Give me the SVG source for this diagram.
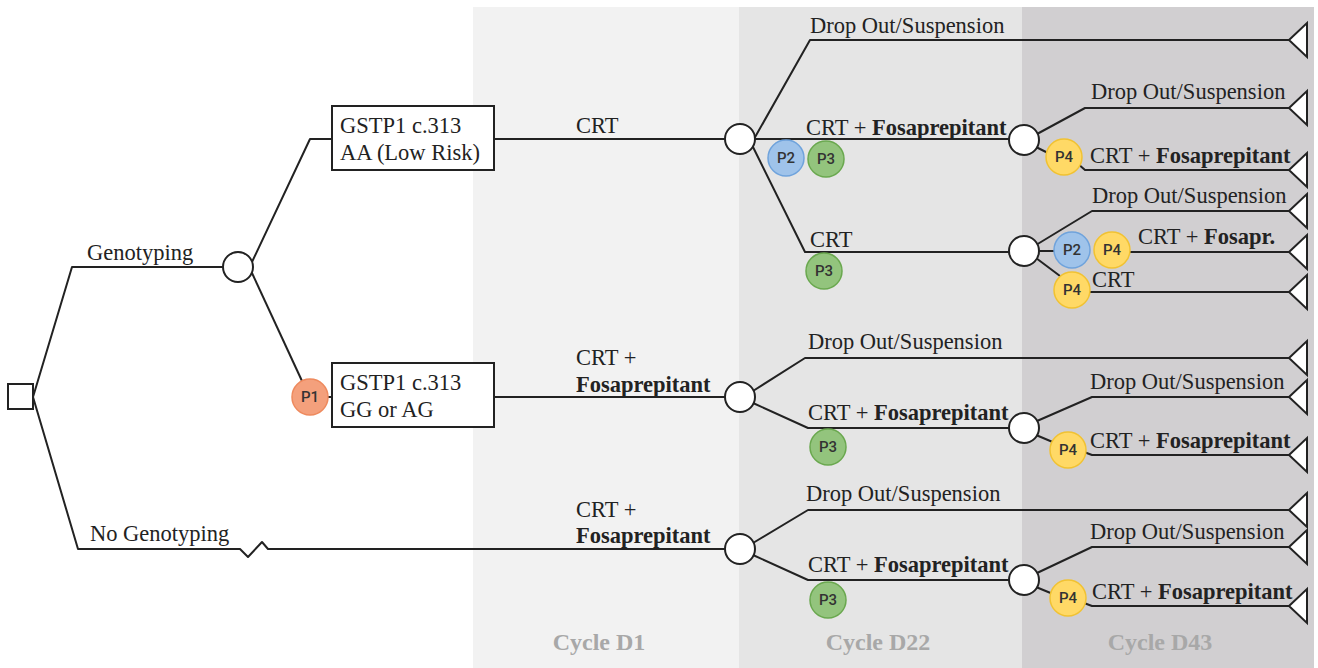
<svg xmlns="http://www.w3.org/2000/svg" width="1318" height="668" viewBox="0 0 1318 668">
<style>
.t{font-family:"Liberation Serif","Times New Roman",serif;font-size:22.5px;fill:#222}
.b{font-weight:bold}
.cy{font-family:"Liberation Serif","Times New Roman",serif;font-size:24px;font-weight:bold;fill:#a8a8a8;text-anchor:middle}
.ln{fill:none;stroke:#222;stroke-width:2;stroke-linejoin:round}
.ch{fill:#fff;stroke:#222;stroke-width:2}
.term{fill:#fff;stroke:#222;stroke-width:2;stroke-linejoin:miter}
.box{fill:#fff;stroke:#222;stroke-width:2}
.pl{font-family:Roboto,"Open Sans",sans-serif;font-size:15px;font-weight:500;fill:#333;text-anchor:middle}
.p1{fill:#f4a07c;stroke:#ee8a5e;stroke-width:1.5}
.p2{fill:#9fc3ea;stroke:#6fa3dc;stroke-width:1.5}
.p3{fill:#93c47d;stroke:#6aa84f;stroke-width:1.5}
.p4{fill:#ffd966;stroke:#f1c232;stroke-width:1.5}
</style>
<defs>
<path id="tri" d="M0,0 L18,-17 L18,17 Z" class="term"/>
</defs>
<rect width="1318" height="668" fill="#fff"/>
<g id="panels">
<rect x="473" y="7" width="266" height="661" fill="#f2f2f2"/>
<rect x="739" y="7" width="283" height="661" fill="#e5e5e5"/>
<rect x="1022" y="7" width="292" height="661" fill="#d1cfd1"/>
<text class="cy" x="599" y="650">Cycle D1</text>
<text class="cy" x="878" y="650">Cycle D22</text>
<text class="cy" x="1160" y="650">Cycle D43</text>
</g>
<g id="connectors">
<path class="ln" d="M33,397 L72,267 L223,267"/>
<path class="ln" d="M33,397 L78,549 L240,549 L248,557 L262,542 L268,549 L725,549"/>
<path class="ln" d="M252,262 L310,139 L332,139"/>
<path class="ln" d="M252,273 L302,381"/>
<path class="ln" d="M328,397 L332,397"/>
<path class="ln" d="M494,139 L725,139"/>
<path class="ln" d="M494,397 L725,397"/>
<path class="ln" d="M754,139 L810,40 L1289,40"/>
<path class="ln" d="M754,139 L1010,139"/>
<path class="ln" d="M752,145 L805,252 L1009,252"/>
<path class="ln" d="M1037,134 L1085,108 L1289,108"/>
<path class="ln" d="M1036,147 L1050,154 M1077,163 L1085,170 L1289,170"/>
<path class="ln" d="M1036,245 L1092,211 L1289,211"/>
<path class="ln" d="M1038,251 L1054,251 M1130,252 L1289,252"/>
<path class="ln" d="M1036,258 L1060,276 M1090,292 L1289,292"/>
<path class="ln" d="M753,391 L805,358 L1289,358"/>
<path class="ln" d="M753,403 L808,428 L1010,428"/>
<path class="ln" d="M1037,421 L1092,397 L1289,397"/>
<path class="ln" d="M1036,435 L1055,443 M1084,452 L1092,455 L1289,455"/>
<path class="ln" d="M753,543 L808,510 L1289,510"/>
<path class="ln" d="M753,555 L808,580 L1010,580"/>
<path class="ln" d="M1037,573 L1092,547 L1289,547"/>
<path class="ln" d="M1036,587 L1053,594 M1084,603 L1092,606 L1289,606"/>
</g>
<g id="root"><rect x="8" y="384" width="25" height="25" class="box"/></g>
<g id="chance-genotyping"><circle cx="238" cy="267" r="15" class="ch"/></g>
<g id="box-aa"><rect x="332" y="106" width="162" height="64" class="box"/>
<text class="t" x="340" y="133">GSTP1 c.313</text><text class="t" x="340" y="160">AA (Low Risk)</text></g>
<g id="box-gg"><rect x="332" y="363" width="162" height="64" class="box"/>
<text class="t" x="340" y="390">GSTP1 c.313</text><text class="t" x="340" y="417">GG or AG</text></g>
<g id="chance-aa"><circle cx="740" cy="139" r="15" class="ch"/></g>
<g id="chance-gg"><circle cx="740" cy="397" r="15" class="ch"/></g>
<g id="chance-no"><circle cx="740" cy="549" r="15" class="ch"/></g>
<g id="chance-aa-fos"><circle cx="1024" cy="140" r="15" class="ch"/></g>
<g id="chance-aa-crt"><circle cx="1024" cy="251" r="15" class="ch"/></g>
<g id="chance-gg-fos"><circle cx="1024" cy="428" r="15" class="ch"/></g>
<g id="chance-no-fos"><circle cx="1024" cy="580" r="15" class="ch"/></g>
<g id="terminals">
<use href="#tri" x="1289" y="40"/>
<use href="#tri" x="1289" y="108"/>
<use href="#tri" x="1289" y="170"/>
<use href="#tri" x="1289" y="211"/>
<use href="#tri" x="1289" y="252"/>
<use href="#tri" x="1289" y="292"/>
<use href="#tri" x="1289" y="358"/>
<use href="#tri" x="1289" y="397"/>
<use href="#tri" x="1289" y="455"/>
<use href="#tri" x="1289" y="510"/>
<use href="#tri" x="1289" y="547"/>
<use href="#tri" x="1289" y="606"/>
</g>
<g id="labels">
<text class="t" x="87" y="260">Genotyping</text>
<text class="t" x="90" y="541">No Genotyping</text>
<text class="t" x="576" y="133">CRT</text>
<text class="t" x="576" y="365">CRT +</text>
<text class="t b" x="576" y="392">Fosaprepitant</text>
<text class="t" x="576" y="517">CRT +</text>
<text class="t b" x="576" y="543">Fosaprepitant</text>
<text class="t" x="810" y="33">Drop Out/Suspension</text>
<text class="t" x="806" y="135">CRT + <tspan class="b">Fosaprepitant</tspan></text>
<text class="t" x="810" y="247">CRT</text>
<text class="t" x="1091" y="99">Drop Out/Suspension</text>
<text class="t" x="1090" y="163">CRT + <tspan class="b">Fosaprepitant</tspan></text>
<text class="t" x="1092" y="203">Drop Out/Suspension</text>
<text class="t" x="1138" y="244">CRT + <tspan class="b">Fosapr.</tspan></text>
<text class="t" x="1092" y="287">CRT</text>
<text class="t" x="808" y="349">Drop Out/Suspension</text>
<text class="t" x="808" y="420">CRT + <tspan class="b">Fosaprepitant</tspan></text>
<text class="t" x="1090" y="389">Drop Out/Suspension</text>
<text class="t" x="1090" y="448">CRT + <tspan class="b">Fosaprepitant</tspan></text>
<text class="t" x="806" y="501">Drop Out/Suspension</text>
<text class="t" x="808" y="572">CRT + <tspan class="b">Fosaprepitant</tspan></text>
<text class="t" x="1090" y="539">Drop Out/Suspension</text>
<text class="t" x="1092" y="599">CRT + <tspan class="b">Fosaprepitant</tspan></text>
</g>
<g id="p1"><circle cx="310" cy="397" r="18" class="p1"/><text class="pl" x="310" y="402">P1</text></g>
<g id="p2-a"><circle cx="786" cy="158" r="18" class="p2"/><text class="pl" x="786" y="163">P2</text></g>
<g id="p3-a"><circle cx="826" cy="159" r="18" class="p3"/><text class="pl" x="826" y="164">P3</text></g>
<g id="p3-b"><circle cx="824" cy="271" r="18" class="p3"/><text class="pl" x="824" y="276">P3</text></g>
<g id="p4-a"><circle cx="1064" cy="157" r="18" class="p4"/><text class="pl" x="1064" y="162">P4</text></g>
<g id="p2-b"><circle cx="1072" cy="250" r="18" class="p2"/><text class="pl" x="1072" y="255">P2</text></g>
<g id="p4-b"><circle cx="1112" cy="250" r="18" class="p4"/><text class="pl" x="1112" y="255">P4</text></g>
<g id="p4-c"><circle cx="1072" cy="290" r="18" class="p4"/><text class="pl" x="1072" y="295">P4</text></g>
<g id="p3-c"><circle cx="828" cy="447" r="18" class="p3"/><text class="pl" x="828" y="452">P3</text></g>
<g id="p4-d"><circle cx="1068" cy="450" r="18" class="p4"/><text class="pl" x="1068" y="455">P4</text></g>
<g id="p3-d"><circle cx="828" cy="600" r="18" class="p3"/><text class="pl" x="828" y="605">P3</text></g>
<g id="p4-e"><circle cx="1068" cy="598" r="18" class="p4"/><text class="pl" x="1068" y="603">P4</text></g>
</svg>
